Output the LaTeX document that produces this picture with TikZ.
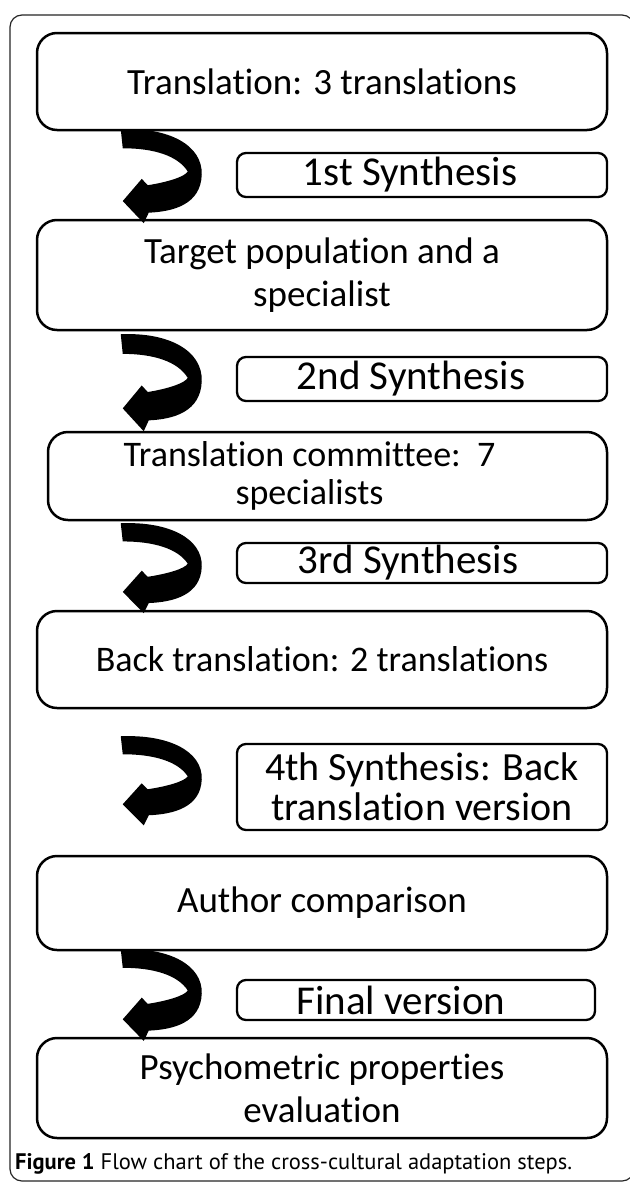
\documentclass[tikz,border=0pt]{standalone}
\usepackage{fontspec}
\setmainfont{Carlito}[Ligatures={NoCommon}]
\newfontfamily\capfont{PT Sans}
\usetikzlibrary{calc}
\tikzset{
  bigbox/.style={draw=black, line width=2.5pt, rounded corners=20pt, minimum width=570pt,
    inner sep=0pt, font=\fontsize{37}{43}\selectfont, align=center},
  synbox/.style={draw=black, line width=2.3pt, rounded corners=9pt, inner sep=0pt,
    font=\fontsize{40}{40}\selectfont, align=center},
  syntext/.style={font=\fontsize{41}{44}\selectfont, inner sep=0pt},
  uturn/.pic={
    \fill[black] (-1,0) .. controls (47,-2) and (81,15) .. (80,43)
      .. controls (79,71) and (52,78) .. (27,79)
      -- (22,89) -- (1,68) -- (20,47) -- (26,53)
      .. controls (46,50) and (63,45) .. (66,40)
      .. controls (56,25) and (32,18) .. (1,18) -- cycle;
  }
}
\begin{document}
\begin{tikzpicture}[x=1pt,y=-1pt]
\useasboundingbox (0,0) rectangle (629,1183);
\fill[white] (0,0) rectangle (629,1183);
% outer frame
\draw[line width=1.2pt, draw=black!85, rounded corners=12pt] (10,15) rectangle (634,1181);

\node[bigbox, minimum height=97pt] (b1) at (322,81.5) {Translation: 3 translations};
\node[synbox, minimum width=370pt, minimum height=44pt] (s1) at (422,175) {};
\node[syntext] at ($(s1.center)+(-12,0)$) {1st Synthesis};

\node[bigbox, minimum height=110pt] (b2) at (322,275) {Target population and a\\specialist};
\node[synbox, minimum width=370pt, minimum height=44pt] (s2) at (422,379) {};
\node[syntext] at ($(s2.center)+(-11,0)$) {2nd Synthesis};

\node[bigbox, minimum width=559pt, minimum height=88pt] (b3) at (327.5,476) {};
\node[font=\fontsize{36}{38}\selectfont, align=center, inner sep=0pt] at ($(b3.center)+(-18,0)$) {Translation committee:\ \ 7\\specialists};
\node[synbox, minimum width=370pt, minimum height=40pt] (s3) at (422,563) {};
\node[syntext] at ($(s3.center)+(-14,0)$) {3rd Synthesis};

\node[bigbox, minimum height=97pt, font=\fontsize{36}{43}\selectfont] (b4) at (322,659.5) {Back translation: 2 translations};
\node[synbox, minimum width=370pt, minimum height=86pt] (s4) at (422,787) {4th Synthesis: Back\\translation version};

\node[bigbox, minimum height=94pt] (b5) at (322,903) {Author comparison};
\node[synbox, minimum width=358pt, minimum height=40pt] (s5) at (416,1000) {};
\node[syntext] at ($(s5.center)+(-15,0)$) {Final version};

\node[bigbox, minimum height=100pt] (b6) at (322,1088) {Psychometric properties\\evaluation};

% curved arrows
\pic[yscale=1.056] at ($(b1.south west)+(86,-2)$) {uturn};
\pic[yscale=1.09] at ($(b2.south west)+(86,3)$) {uturn};
\pic[yscale=1.01] at ($(b3.south west)+(75,2)$) {uturn};
\pic at ($(b4.south west)+(86,27)$) {uturn};
\pic[yscale=1.03] at ($(b5.south west)+(86,-2)$) {uturn};

\node[anchor=west, inner sep=0pt, font=\capfont\fontsize{22.5}{24}\selectfont] (cap) at (15,1164)
  {\textbf{Figure 1} Flow chart of the cross-cultural adaptation steps.};
\end{tikzpicture}
\end{document}
